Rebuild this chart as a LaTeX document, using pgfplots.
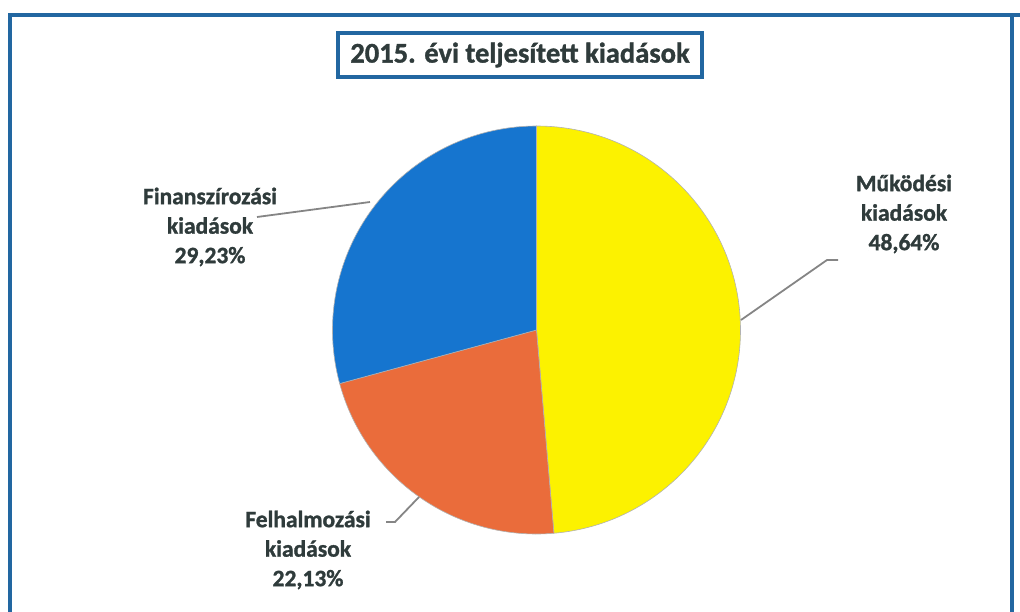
\documentclass[border=0pt]{standalone}
\usepackage{pgfplots}
\pgfplotsset{compat=1.18}
\usepackage{pgfplotstable}
\usepackage{fontspec}
\setmainfont{Carlito}
\newfontfamily\lab{Carlito}[UprightFont=*, BoldFeatures={FakeBold=1.2}]
\definecolor{frameblue}{HTML}{2267A1}
\definecolor{pieyellow}{HTML}{FCF200}
\definecolor{pieorange}{HTML}{EA6C3B}
\definecolor{pieblue}{HTML}{1675CF}
\definecolor{txt}{HTML}{2F3B3B}
\definecolor{leader}{HTML}{858585}

\pgfplotstableread{
name value
Mukodesi 48.64
Felhalmozasi 22.13
Finanszirozasi 29.23
}\piedata

\begin{document}
\begin{tikzpicture}
\pgfplotstablegetelem{0}{value}\of\piedata \let\va\pgfplotsretval
\pgfplotstablegetelem{1}{value}\of\piedata \let\vb\pgfplotsretval
\pgfplotstablegetelem{2}{value}\of\piedata \let\vc\pgfplotsretval
\pgfmathsetmacro{\aA}{90-3.6*\va}
\pgfmathsetmacro{\aB}{\aA-3.6*\vb}
\pgfmathsetmacro{\aC}{\aB-3.6*\vc}
\begin{axis}[width=1020pt,height=612pt,scale only axis,
  xmin=0,xmax=1020,ymin=0,ymax=612,y dir=reverse,
  hide axis,clip=false]
\coordinate (bl) at (axis cs:0,612);
\coordinate (tr) at (axis cs:1020,0);
% outer frame
\draw[frameblue,line width=4pt] (axis cs:10,612) -- (axis cs:10,15) -- (axis cs:1020,15);
\draw[frameblue,line width=4pt] (axis cs:1012,15) -- (axis cs:1012,612);
% slices
\fill[pieyellow,draw=black!30,line width=0.6pt] (axis cs:536.5,330) -- ++(90:204pt) arc[start angle=90,end angle=\aA,radius=204pt] -- cycle;
\fill[pieorange,draw=black!30,line width=0.6pt] (axis cs:536.5,330) -- ++(\aA:204pt) arc[start angle=\aA,end angle=\aB,radius=204pt] -- cycle;
\fill[pieblue,draw=black!30,line width=0.6pt] (axis cs:536.5,330) -- ++(\aB:204pt) arc[start angle=\aB,end angle=\aC,radius=204pt] -- cycle;
% leader lines
\draw[leader,line width=1.8pt] (axis cs:741,320) -- (axis cs:827,260) -- (axis cs:838,260);
\draw[leader,line width=1.8pt] (axis cs:370,202) -- (axis cs:257,217);
\draw[leader,line width=1.8pt] (axis cs:419,497) -- (axis cs:395,522) -- (axis cs:386,522);
% labels
\node[text=txt,font=\lab\bfseries\fontsize{23.5}{29.5}\selectfont,align=center] at (axis cs:904,214) {Működési\\kiadások\\48,64\%};
\node[text=txt,font=\lab\bfseries\fontsize{23.5}{29.5}\selectfont,align=center] at (axis cs:210,227) {Finanszírozási\\kiadások\\29,23\%};
\node[text=txt,font=\lab\bfseries\fontsize{23.5}{29.5}\selectfont,align=center] at (axis cs:308,550) {Felhalmozási\\kiadások\\22,13\%};
% title
\node[draw=frameblue,line width=4.5pt,fill=white,minimum width=364pt,minimum height=44pt,inner sep=0pt,
  text=txt,font=\lab\bfseries\fontsize{28.5}{30}\selectfont] at (axis cs:520,55) {2015. évi teljesített kiadások};
\end{axis}
\pgfresetboundingbox
\path (bl) rectangle (tr);
\end{tikzpicture}
\end{document}
